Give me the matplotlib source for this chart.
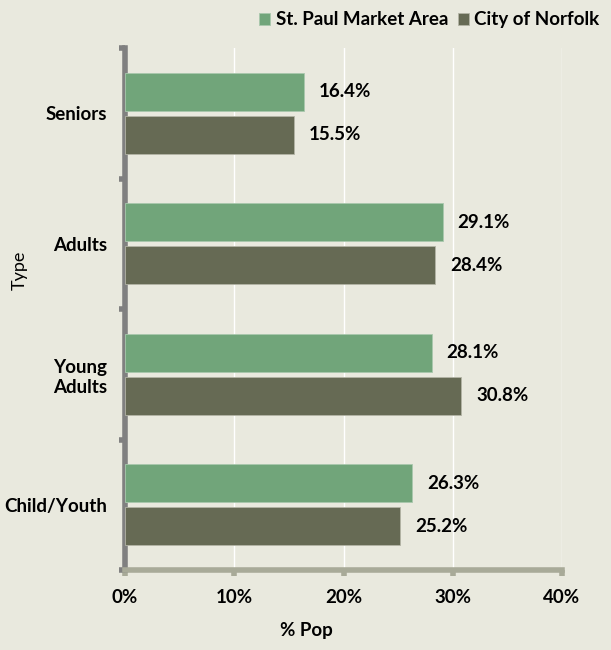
import matplotlib.pyplot as plt
import numpy as np

# data
categories = ['Child/Youth', 'Young\nAdults', 'Adults', 'Seniors']
st_paul = [26.3, 28.1, 29.1, 16.4]
norfolk = [25.2, 30.8, 28.4, 15.5]
xticks = [0, 10, 20, 30, 40]

plt.rcParams['font.family'] = ['Lato', 'DejaVu Sans']

bg = '#e9e9de'
green = '#71a57a'
dark = '#666a54'
fs = 13.5

fig = plt.figure(figsize=(6.11, 6.5), dpi=100, facecolor=bg)
ax = fig.add_axes([0.2046, 0.123, 0.7152, 0.803], facecolor=bg)

y = np.arange(len(categories))
h = 0.29
off = 0.165
b1 = ax.barh(y + off, st_paul, height=h, color=green, edgecolor='#a9c8ad', linewidth=0.6,
             label='St. Paul Market Area', zorder=3)
b2 = ax.barh(y - off, norfolk, height=h, color=dark, edgecolor='#b3b4a6', linewidth=0.6,
             label='City of Norfolk', zorder=3)

for yy, v in zip(y + off, st_paul):
    ax.text(v + 1.35, yy, f'{v:.1f}%', va='center', ha='left', fontsize=fs, fontweight='bold')
for yy, v in zip(y - off, norfolk):
    ax.text(v + 1.35, yy, f'{v:.1f}%', va='center', ha='left', fontsize=fs, fontweight='bold')

ax.set_xlim(0, 40)
ax.set_ylim(-0.5, 3.5)
ax.set_xticks(xticks)
ax.set_xticklabels([f'{t}%' for t in xticks], fontsize=fs, fontweight='bold')
ax.set_yticks(y)
ax.set_yticklabels(categories, fontsize=fs, fontweight='bold', ha='right', multialignment='center')
ax.tick_params(axis='y', length=0, pad=13)
ax.tick_params(axis='x', length=4, width=4, color='#a8aa98', pad=10)

# minor ticks on y at category boundaries
ax.set_yticks(np.arange(-0.5, 4, 1), minor=True)
ax.tick_params(axis='y', which='minor', length=4, width=4, color='#808080')

ax.grid(axis='x', color='white', linewidth=1, zorder=0)
for s in ['top', 'right']:
    ax.spines[s].set_visible(False)
ax.spines['left'].set_color('#808080')
ax.spines['left'].set_linewidth(4)
ax.spines['bottom'].set_color('#a8aa98')
ax.spines['bottom'].set_linewidth(4)

ax.set_xlabel('% Pop', fontsize=fs, fontweight='bold')
ax.xaxis.set_label_coords(0.416, -0.1)
ax.set_ylabel('Type', fontsize=13)
ax.yaxis.set_label_coords(-0.222, 0.575)

ax.legend(handles=[b1, b2], loc='upper right', bbox_to_anchor=(1.0, 1.0),
          bbox_transform=fig.transFigure, ncol=2, frameon=False,
          prop={'weight': 'bold', 'size': fs}, handlelength=0.6, handleheight=0.6,
          handletextpad=0.3, columnspacing=0.5, borderaxespad=0.2)

fig.savefig('out.png', dpi=100, facecolor=bg)
